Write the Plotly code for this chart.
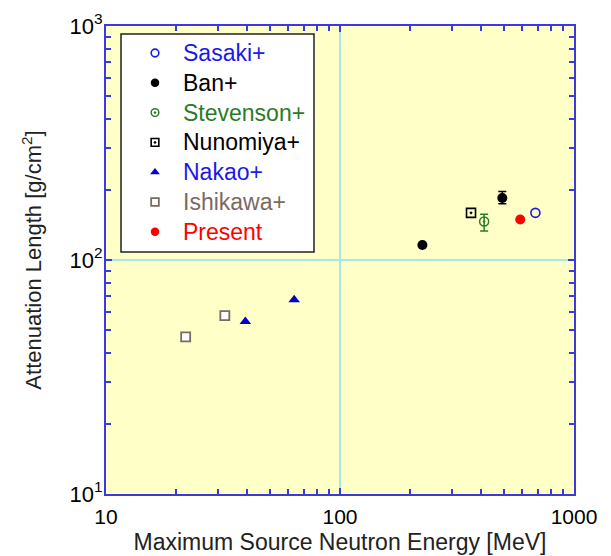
import plotly.graph_objects as go

# ---- data ----
sasaki_x = [684]
sasaki_y = [159]

ban_x = [225, 494]
ban_y = [116, 184]
ban_err_plus = [0, 12]
ban_err_minus = [0, 10]

stevenson_x = [413]
stevenson_y = [146]
stevenson_err_plus = [11]
stevenson_err_minus = [13]

nunomiya_x = [363]
nunomiya_y = [159]

nakao_x = [39.4, 63.7]
nakao_y = [54.6, 67.6]

ishikawa_x = [21.9, 32.2]
ishikawa_y = [46.9, 57.8]

present_x = [589]
present_y = [149]
present_err = [4]

x_tickvals = [10, 100, 1000]
x_ticktext = ["10", "100", "1000"]
y_tickvals = [10, 100, 1000]
y_ticktext = ["10<sup>1</sup>", "10<sup>2</sup>", "10<sup>3</sup>"]
minor_vals = [20, 30, 40, 50, 60, 70, 80, 90, 200, 300, 400, 500, 600, 700, 800, 900]

legend_names = ["Sasaki+", "Ban+", "Stevenson+", "Nunomiya+", "Nakao+", "Ishikawa+", "Present"]

BLUE = "#1a1ae6"
GREEN = "#2a7a2a"
BROWN = "#7a6a62"
RED = "#ff0000"
AXC = "#3a3ae0"


def style(name, scale=1.0):
    base = {
        "Sasaki+": dict(symbol="circle-open", size=9, color=BLUE, line=dict(width=1.6, color=BLUE)),
        "Ban+": dict(symbol="circle", size=10, color="black"),
        "Stevenson+": dict(symbol="circle-open-dot", size=9, color=GREEN, line=dict(width=1.5, color=GREEN)),
        "Nunomiya+": dict(symbol="square-open-dot", size=9, color="black", line=dict(width=1.6, color="black")),
        "Nakao+": dict(symbol="triangle-up", size=10, color="#0000cc"),
        "Ishikawa+": dict(symbol="square", size=9, color="white", line=dict(width=1.8, color=BROWN)),
        "Present": dict(symbol="circle", size=10, color=RED),
    }[name]
    base = dict(base)
    base["size"] = base["size"] * scale
    return base


text_colors = {
    "Sasaki+": BLUE, "Ban+": "black", "Stevenson+": GREEN, "Nunomiya+": "black",
    "Nakao+": BLUE, "Ishikawa+": BROWN, "Present": RED,
}

fig = go.Figure()

fig.add_trace(go.Scatter(x=sasaki_x, y=sasaki_y, mode="markers", marker=style("Sasaki+")))
fig.add_trace(go.Scatter(
    x=ban_x, y=ban_y, mode="markers", marker=style("Ban+"),
    error_y=dict(type="data", array=ban_err_plus, arrayminus=ban_err_minus,
                 color="black", thickness=1.5, width=4)))
fig.add_trace(go.Scatter(
    x=stevenson_x, y=stevenson_y, mode="markers", marker=style("Stevenson+"),
    error_y=dict(type="data", array=stevenson_err_plus, arrayminus=stevenson_err_minus,
                 color=GREEN, thickness=1.5, width=4)))
fig.add_trace(go.Scatter(x=nunomiya_x, y=nunomiya_y, mode="markers", marker=style("Nunomiya+")))
fig.add_trace(go.Scatter(x=nakao_x, y=nakao_y, mode="markers", marker=style("Nakao+")))
fig.add_trace(go.Scatter(x=ishikawa_x, y=ishikawa_y, mode="markers", marker=style("Ishikawa+")))
fig.add_trace(go.Scatter(
    x=present_x, y=present_y, mode="markers", marker=style("Present"),
    error_y=dict(type="data", array=present_err, color=RED, thickness=1.5, width=3)))

# ---- geometry (page pixels; the page body adds an 8px offset) ----
OFF = 8
W, H = 611 - OFF, 556 - OFF
PL, PR, PT, PB = 106, 574, 26, 494          # plot-area edges in page pixels
ML, MT = PL - OFF, PT - OFF
MR, MB = W - (PR - OFF), H - (PB - OFF)
PW, PH = PR - PL, PB - PT


def px2paper_x(px):
    return (px - PL) / PW


def px2paper_y(py):
    return (PB - py) / PH


# ---- hand-built legend (box, sample markers on an overlay axis, coloured labels) ----
box_l, box_r, box_t, box_b = 121, 314, 34, 252
first_row, row_gap = 53, 29.8
marker_px, text_px = 155, 181

fig.add_shape(type="rect", xref="paper", yref="paper",
              x0=px2paper_x(box_l), x1=px2paper_x(box_r),
              y0=px2paper_y(box_b), y1=px2paper_y(box_t),
              fillcolor="white", line=dict(color="#222222", width=1.5), layer="below")

for i, name in enumerate(legend_names):
    row_y = first_row + i * row_gap
    fig.add_trace(go.Scatter(
        x=[px2paper_x(marker_px)], y=[px2paper_y(row_y)], mode="markers",
        marker=style(name, 0.85), xaxis="x2", yaxis="y2", cliponaxis=False, hoverinfo="skip"))
    fig.add_annotation(
        x=px2paper_x(text_px), y=px2paper_y(row_y), xref="paper", yref="paper",
        text=name, showarrow=False, xanchor="left", yanchor="middle",
        font=dict(size=23, color=text_colors[name]))

axis_common = dict(
    type="log", range=[1, 3], automargin=False,
    showline=True, linecolor=AXC, linewidth=2, mirror="ticks",
    ticks="inside", ticklen=6, tickwidth=1.5, tickcolor=AXC,
    showgrid=True, gridcolor="#a8e8e4", gridwidth=1.5,
    zeroline=False,
    minor=dict(tickvals=minor_vals, ticks="inside", ticklen=5, tickwidth=1.5,
               tickcolor=AXC, showgrid=False),
)

fig.update_xaxes(**axis_common, tickmode="array", tickvals=x_tickvals, ticktext=x_ticktext,
                 tickfont=dict(size=21, color="black"), ticklabelstandoff=3,
                 title=dict(text="Maximum Source Neutron Energy [MeV]", font=dict(size=23, color="#222222"),
                            standoff=7))
fig.update_yaxes(**axis_common, tickmode="array", tickvals=y_tickvals, ticktext=y_ticktext,
                 tickfont=dict(size=22, color="black"), ticklabelstandoff=-3,
                 title=dict(text="Attenuation Length [g/cm<sup>2</sup>]", font=dict(size=22, color="#222222"),
                            standoff=22))

fig.update_layout(
    width=W, height=H,
    margin=dict(l=ML, r=MR, t=MT, b=MB, autoexpand=False),
    paper_bgcolor="white", plot_bgcolor="#ffffc8",
    font=dict(family="Liberation Sans, Arial, Helvetica, sans-serif", color="black"),
    showlegend=False,
    xaxis2=dict(domain=[0, 1], range=[0, 1], overlaying="x", anchor="y2", visible=False,
                fixedrange=True),
    yaxis2=dict(domain=[0, 1], range=[0, 1], overlaying="y", anchor="x2", visible=False,
                fixedrange=True),
)

fig.write_html("out.html")
